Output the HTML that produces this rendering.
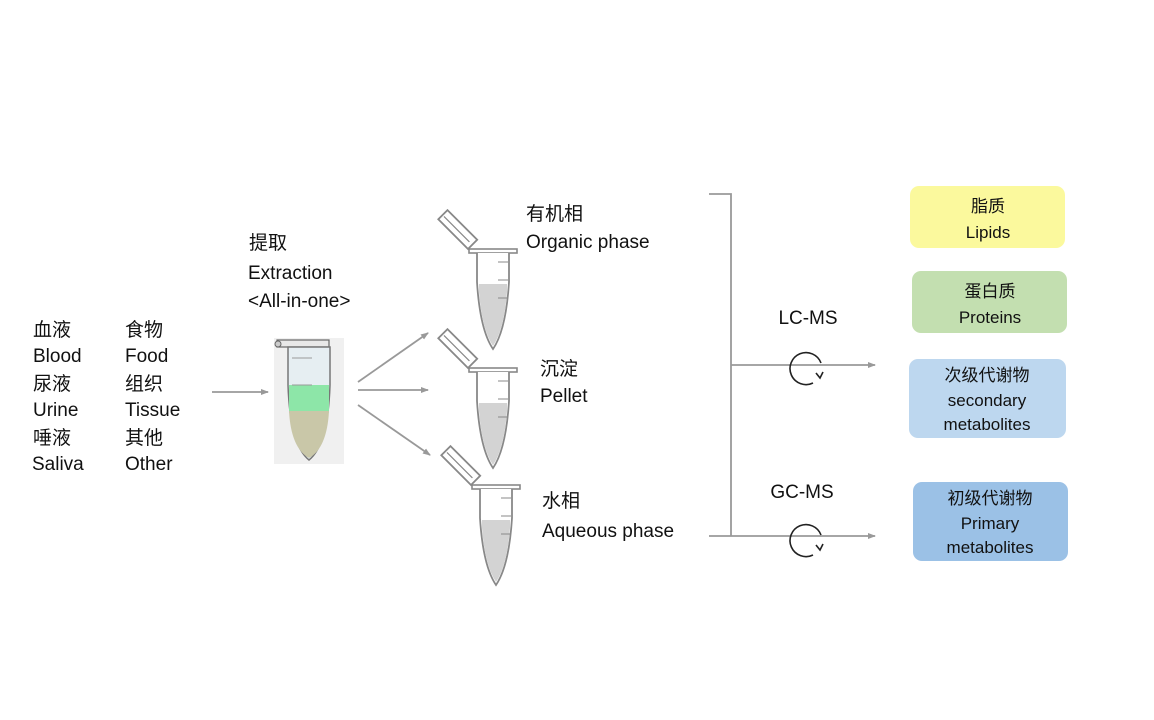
<!DOCTYPE html>
<html><head><meta charset="utf-8"><style>
body{margin:0;background:#fff;}
svg{display:block;}
text{font-family:"Liberation Sans","Noto Sans CJK SC",sans-serif;fill:#111;}
</style></head><body>
<svg width="1154" height="720" viewBox="0 0 1154 720">
<defs>
<marker id="ah" markerWidth="8" markerHeight="8" refX="7" refY="4" orient="auto" markerUnits="userSpaceOnUse"><path d="M0,1 L8,4 L0,7 z" fill="#999"/></marker>
<g id="tube">
  <g transform="translate(-25,-3) rotate(-135)">
    <rect x="0" y="0" width="42" height="13" fill="#fff" stroke="#888" stroke-width="1.8"/>
    <line x1="4" y1="6" x2="40" y2="6" stroke="#888" stroke-width="1.2"/>
  </g>
  <rect x="-24" y="-3" width="48" height="4" fill="#fff" stroke="#888" stroke-width="1.6"/>
  <path d="M-16,1 L-16,30 Q-13,78 0,97 Q13,78 16,30 L16,1" fill="#fff" stroke="#888" stroke-width="1.8"/>
  <path d="M-14,32 L14,32 L14,40 Q11,78 0,94 Q-11,78 -14,40 z" fill="#d3d3d3"/>
  <line x1="5" y1="10" x2="15" y2="10" stroke="#888" stroke-width="1"/>
  <line x1="5" y1="28" x2="15" y2="28" stroke="#888" stroke-width="1"/>
  <line x1="5" y1="46" x2="15" y2="46" stroke="#888" stroke-width="1"/>
</g>
</defs>

<g font-size="19">
<text x="33" y="336">血液</text><text x="33" y="362">Blood</text>
<text x="33" y="390">尿液</text><text x="33" y="416">Urine</text>
<text x="33" y="444">唾液</text><text x="32" y="470">Saliva</text>
<text x="125" y="336">食物</text><text x="125" y="362">Food</text>
<text x="125" y="390">组织</text><text x="125" y="416">Tissue</text>
<text x="125" y="444">其他</text><text x="125" y="470">Other</text>
<text x="249" y="249">提取</text>
<text x="248" y="279">Extraction</text>
<text x="248" y="307">&lt;All-in-one&gt;</text>
<text x="526" y="220">有机相</text>
<text x="526" y="248">Organic phase</text>
<text x="540" y="375">沉淀</text>
<text x="540" y="402">Pellet</text>
<text x="542" y="507">水相</text>
<text x="542" y="537">Aqueous phase</text>
<text x="808" y="324" text-anchor="middle">LC-MS</text>
<text x="802" y="498" text-anchor="middle">GC-MS</text>
</g>

<g stroke="#999" stroke-width="1.8" fill="none">
<line x1="212" y1="392" x2="268" y2="392" marker-end="url(#ah)"/>
<line x1="358" y1="382" x2="428" y2="333" marker-end="url(#ah)"/>
<line x1="358" y1="390" x2="428" y2="390" marker-end="url(#ah)"/>
<line x1="358" y1="405" x2="430" y2="455" marker-end="url(#ah)"/>
<polyline points="709,194 731,194 731,536"/>
<line x1="731" y1="365" x2="875" y2="365" marker-end="url(#ah)"/>
<line x1="709" y1="536" x2="875" y2="536" marker-end="url(#ah)"/>
</g>
<g stroke="#222" stroke-width="1.6" fill="none">
<path d="M821,363 A16,16 0 1 0 813,383"/>
<path d="M816,373 l4,5 l3,-6"/>
<path d="M821,535 A16,16 0 1 0 813,555"/>
<path d="M816,545 l4,5 l3,-6"/>
</g>

<rect x="274" y="338" width="70" height="126" fill="#f0f0f0"/>
<g>
  <rect x="277" y="340" width="52" height="7" fill="#e8e8e8" stroke="#666" stroke-width="1.2"/>
  <circle cx="278" cy="344" r="3" fill="#ccc" stroke="#666"/>
  <path d="M288,347 L288,385 Q290,445 309,460 Q328,445 330,385 L330,347 z" fill="#e6eef2" stroke="#777" stroke-width="1.5"/>
  <rect x="289" y="385" width="40" height="26" fill="#8de6a8"/>
  <path d="M289,411 L329,411 Q327,448 309,458 Q291,448 289,411 z" fill="#c9c7a8"/>
  <line x1="292" y1="358" x2="312" y2="358" stroke="#999"/>
  <line x1="292" y1="385" x2="312" y2="385" stroke="#999"/>
</g>

<use href="#tube" x="493" y="252"/>
<use href="#tube" x="493" y="371"/>
<use href="#tube" x="496" y="488"/>

<g font-size="17" text-anchor="middle">
<rect x="910" y="186" width="155" height="62" rx="9" fill="#fbf99d"/>
<text x="988" y="212">脂质</text><text x="988" y="238">Lipids</text>
<rect x="912" y="271" width="155" height="62" rx="9" fill="#c3dfb0"/>
<text x="990" y="297">蛋白质</text><text x="990" y="323">Proteins</text>
<rect x="909" y="359" width="157" height="79" rx="9" fill="#bdd7ef"/>
<text x="987" y="381">次级代谢物</text><text x="987" y="406">secondary</text><text x="987" y="430">metabolites</text>
<rect x="913" y="482" width="155" height="79" rx="9" fill="#9bc1e6"/>
<text x="990" y="504">初级代谢物</text><text x="990" y="529">Primary</text><text x="990" y="553">metabolites</text>
</g>
</svg>
</body></html>
